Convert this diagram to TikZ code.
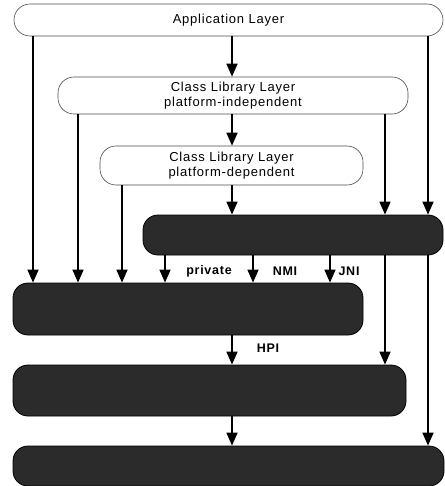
\documentclass[tikz,border=0pt]{standalone}
\usepackage{fontspec}
\setmainfont{Liberation Sans}[LetterSpace=6]
\usetikzlibrary{arrows.meta}
\begin{document}
\begin{tikzpicture}[x=1pt,y=-1pt,
  lightbox/.style={draw=black!70, line width=0.6pt, fill=white, rounded corners=16pt, inner sep=0pt,
     align=center, font=\fontsize{13}{15}\selectfont},
  darkbox/.style={draw=black, line width=0.8pt, fill=black!83, rounded corners=15pt, inner sep=0pt},
  arr/.style={line width=1.6pt, -{Triangle[width=11pt,length=13pt]}},
  lbl/.style={font=\fontsize{12.5}{15}\selectfont\bfseries, inner sep=0pt}]
\useasboundingbox (0,0) rectangle (444,486);
\node[lightbox, minimum width=429pt, minimum height=32pt] (app) at (228.5,20) {Application Layer};
\node[lightbox, minimum width=350pt, minimum height=37pt] (cli) at (233,95.5) {Class Library Layer\\platform-independent};
\node[lightbox, minimum width=263pt, minimum height=39pt] (cld) at (231.5,165.5) {Class Library Layer\\platform-dependent};
\node[darkbox, minimum width=300pt, minimum height=40pt] (vm) at (293,235) {};
\node[darkbox, minimum width=350pt, minimum height=52pt] (b4) at (188,309) {};
\node[darkbox, minimum width=393pt, minimum height=51pt] (b5) at (209.5,390.5) {};
\node[darkbox, minimum width=431pt, minimum height=40pt] (b6) at (228.5,466) {};
\coordinate (cA) at (33,0);
\coordinate (cB) at (78,0);
\coordinate (cC) at (122,0);
\coordinate (cD) at (165,0);
\coordinate (cM) at (232,0);
\coordinate (cN) at (253,0);
\coordinate (cJ) at (330,0);
\coordinate (cR) at (385,0);
\coordinate (cS) at (428,0);
% from application layer
\draw[arr] (app.south -| cM) -- (cli.north -| cM);
\draw[arr] (app.south -| cA) -- (b4.north -| cA);
\draw[arr] (app.south -| cS) -- (vm.north -| cS);
% from platform-independent
\draw[arr] (cli.south -| cM) -- (cld.north -| cM);
\draw[arr] (cli.south -| cB) -- (b4.north -| cB);
\draw[arr] (cli.south -| cR) -- (vm.north -| cR);
% from platform-dependent
\draw[arr] (cld.south -| cM) -- (vm.north -| cM);
\draw[arr] (cld.south -| cC) -- (b4.north -| cC);
% from vm
\draw[arr] (vm.south -| cD) -- (b4.north -| cD);
\draw[arr] (vm.south -| cN) -- (b4.north -| cN);
\draw[arr] (vm.south -| cJ) -- (b4.north -| cJ);
\draw[arr] (vm.south -| cR) -- (b5.north -| cR);
\draw[arr] (vm.south -| cS) -- (b6.north -| cS);
\node[lbl] (lp) at (209,271) {private};
\node[lbl] (ln) at (285,271) {NMI};
\node[lbl] (lj) at (349,271) {JNI};
% lower
\draw[arr] (b4.south -| cM) -- (b5.north -| cM);
\node[lbl] (lh) at (268,348) {HPI};
\draw[arr] (b5.south -| cM) -- (b6.north -| cM);
\end{tikzpicture}
\end{document}
